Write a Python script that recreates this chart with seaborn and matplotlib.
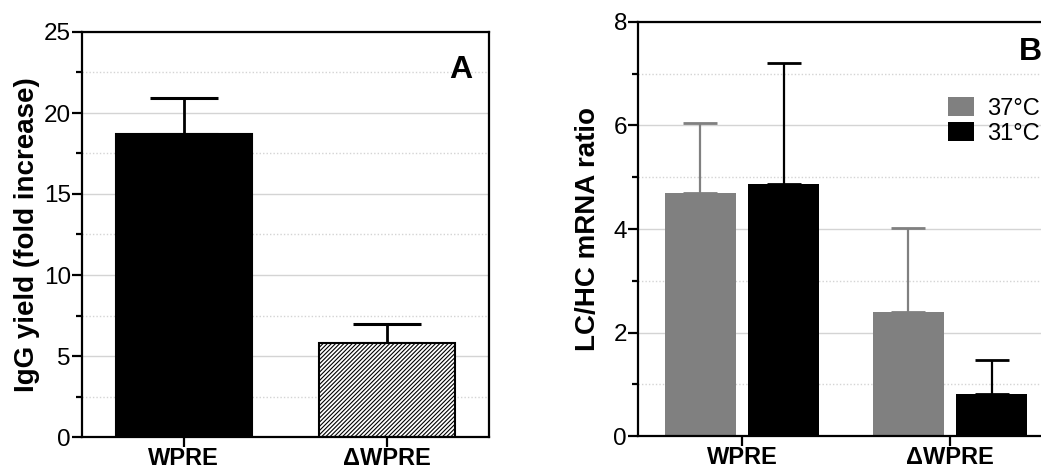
import matplotlib
matplotlib.use("Agg")
import matplotlib.pyplot as plt
import seaborn as sns
import pandas as pd
import numpy as np
from matplotlib.ticker import MultipleLocator

# ---- data ----
cats = ["WPRE", "ΔWPRE"]
yield_mean = [18.7, 5.8]
yield_err = [2.2, 1.15]

temps = ["37°C", "31°C"]
ratio_37 = [4.70, 2.40]
ratio_37_err = [1.35, 1.62]
ratio_31 = [4.87, 0.81]
ratio_31_err = [2.33, 0.66]

sns.set_theme(style="white")
plt.rcParams['font.family'] = ['Liberation Sans', 'DejaVu Sans']
plt.rcParams['hatch.linewidth'] = 0.8
for k in ["text.color", "axes.labelcolor", "xtick.color", "ytick.color"]:
    plt.rcParams[k] = "black"

fig = plt.figure(figsize=(10.41, 4.69), dpi=100)
axA = fig.add_axes([82/1041, 32/469, 407/1041, 405/469])
axB = fig.add_axes([638/1041, 33/469, 416/1041, 414/469])

spine_lw = 1.6
grid_major = dict(color="#d4d4d4", linewidth=1.0, linestyle="-")
grid_minor = dict(color="#d4d4d4", linewidth=1.0, linestyle=(0, (1, 1.5)))

def style_axes(ax, ymax, major, minor):
    ax.set_ylim(0, ymax)
    ax.set_xlim(-0.5, 1.5)
    ax.yaxis.set_major_locator(MultipleLocator(major))
    ax.yaxis.set_minor_locator(MultipleLocator(minor))
    ax.grid(True, which="major", axis="y", **grid_major)
    ax.grid(True, which="minor", axis="y", **grid_minor)
    ax.set_axisbelow(True)
    for s in ax.spines.values():
        s.set_color("black")
        s.set_linewidth(spine_lw)
    ax.tick_params(axis="y", which="major", left=True, length=7, width=spine_lw,
                   color="black", labelsize=17.5, pad=1)
    ax.tick_params(axis="y", which="minor", left=True, length=4, width=spine_lw, color="black")
    ax.tick_params(axis="x", which="major", bottom=True, length=7, width=spine_lw,
                   color="black", labelsize=17, pad=0.5)
    for t in ax.get_xticklabels():
        t.set_fontweight("bold")

# ---- Panel A ----
dfA = pd.DataFrame({"cat": cats, "val": yield_mean})
sns.barplot(data=dfA, x="cat", y="val", hue="cat", palette=["black", "white"],
            width=0.67, legend=False, errorbar=None, ax=axA,
            edgecolor="black", linewidth=1.5, zorder=2)
barsA = axA.patches
barsA[1].set_hatch("////////")
barsA[1].set_edgecolor("black")
xA = [p.get_x() + p.get_width()/2 for p in barsA]
axA.errorbar(xA, yield_mean, yerr=[np.zeros(2), yield_err], fmt="none",
             ecolor="black", elinewidth=2, capsize=24.5, capthick=2.2, zorder=1)
style_axes(axA, 25, 5, 2.5)
axA.set_xlabel("")
axA.set_ylabel("IgG yield (fold increase)", fontsize=20, fontweight="bold", labelpad=3)
axA.text(0.96, 0.905, "A", transform=axA.transAxes, fontsize=23, fontweight="bold",
         ha="right", va="center")

# ---- Panel B ----
dfB = pd.DataFrame({
    "cat": cats * 2,
    "temp": [temps[0]] * 2 + [temps[1]] * 2,
    "val": ratio_37 + ratio_31,
})
sns.barplot(data=dfB, x="cat", y="val", hue="temp", hue_order=temps,
            palette=["#808080", "black"], width=0.8, gap=0.15, errorbar=None,
            ax=axB, linewidth=0, zorder=2)
barsB = [p for p in axB.patches if p.get_height() > 0][:4]
# seaborn orders patches by hue then category
x37 = [barsB[0].get_x() + barsB[0].get_width()/2, barsB[1].get_x() + barsB[1].get_width()/2]
x31 = [barsB[2].get_x() + barsB[2].get_width()/2, barsB[3].get_x() + barsB[3].get_width()/2]
axB.errorbar(x37, ratio_37, yerr=[np.zeros(2), ratio_37_err], fmt="none",
             ecolor="#808080", elinewidth=1.6, capsize=12, capthick=2, zorder=1)
axB.errorbar(x31, ratio_31, yerr=[np.zeros(2), ratio_31_err], fmt="none",
             ecolor="black", elinewidth=1.6, capsize=12, capthick=2, zorder=1)
style_axes(axB, 8, 2, 1)
axB.spines["right"].set_visible(False)
axB.set_xlabel("")
axB.set_ylabel("LC/HC mRNA ratio", fontsize=20, fontweight="bold", labelpad=9)
axB.text(0.915, 0.927, "B", transform=axB.transAxes, fontsize=23, fontweight="bold",
         ha="left", va="center")
handles, labels = axB.get_legend_handles_labels()
axB.legend(handles, labels, loc="upper left", bbox_to_anchor=(0.735, 0.83),
           frameon=False, fontsize=17, handlelength=1.1, handleheight=0.85,
           handletextpad=0.55, labelspacing=0.1, borderaxespad=0, borderpad=0.2)

fig.savefig("out.png", dpi=100)
